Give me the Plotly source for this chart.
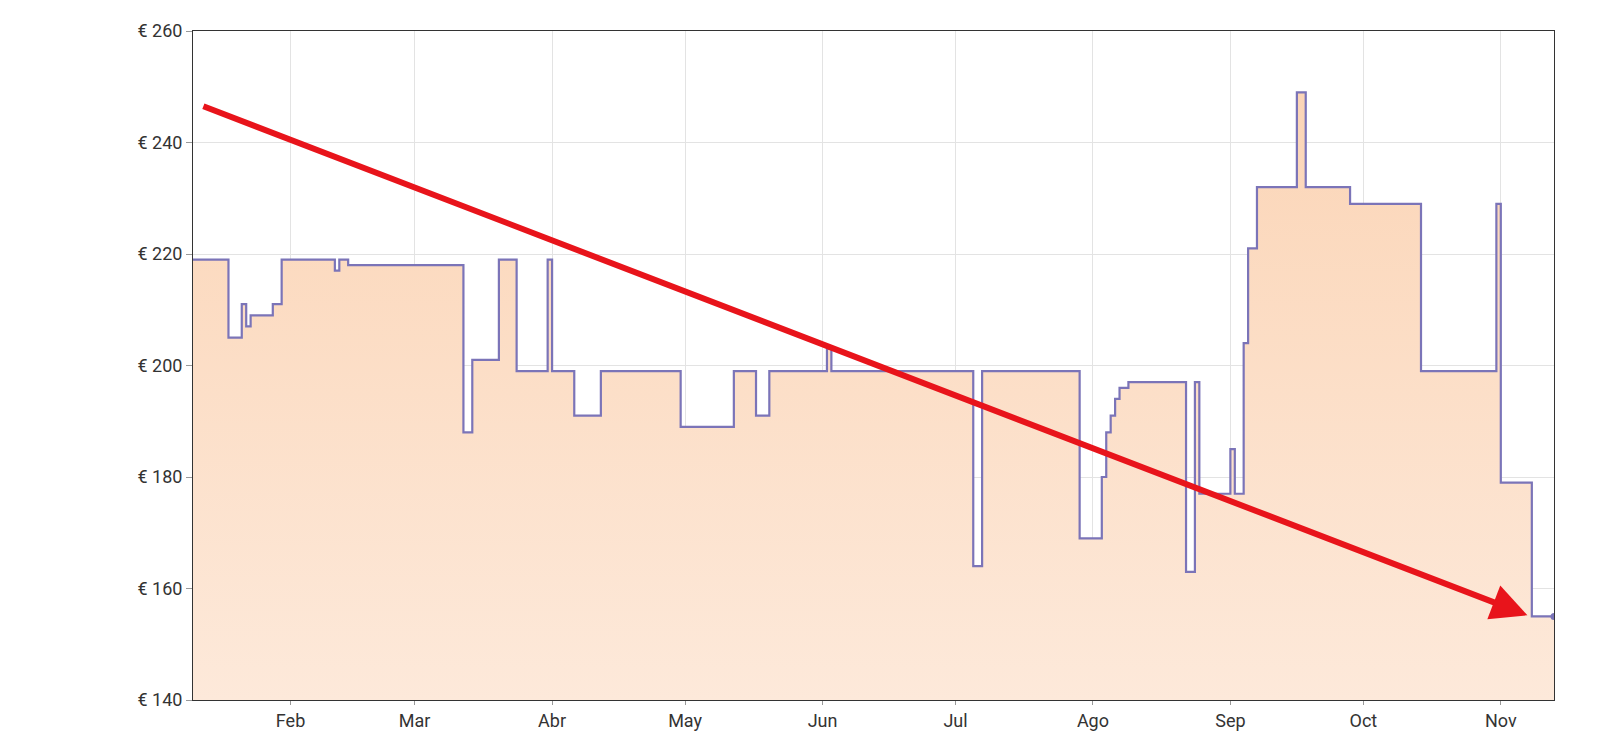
import plotly.graph_objects as go

dates = ["2023-01-10","2023-01-18","2023-01-21","2023-01-22","2023-01-23","2023-01-28","2023-01-30","2023-02-11","2023-02-12","2023-02-14",
         "2023-03-12","2023-03-14","2023-03-20","2023-03-24","2023-03-31","2023-04-01","2023-04-06","2023-04-12","2023-04-30","2023-05-12",
         "2023-05-17","2023-05-20","2023-06-02","2023-06-03","2023-07-05","2023-07-07","2023-07-29","2023-08-03","2023-08-04","2023-08-05",
         "2023-08-06","2023-08-07","2023-08-09","2023-08-22","2023-08-24","2023-08-25","2023-08-26","2023-09-01","2023-09-02","2023-09-04",
         "2023-09-05","2023-09-07","2023-09-16","2023-09-18","2023-09-28","2023-10-14","2023-10-31","2023-11-01","2023-11-08","2023-11-13"]
prices = [219,205,211,207,209,211,219,217,219,218,
          188,201,219,199,219,199,191,199,189,199,
          191,199,203,199,164,199,169,180,188,191,
          194,196,197,163,197,177,177,185,177,204,
          221,232,249,232,229,199,229,179,155,155]
yticks = [140,160,180,200,220,240,260]

fig = go.Figure()
fig.add_trace(go.Scatter(
    x=dates, y=prices, mode="lines", line=dict(color="#7b74b8", width=2.2, shape="hv"),
    fill="tozeroy",
    fillgradient=dict(type="vertical", colorscale=[[0, "#fde9da"], [1, "#fbd3b3"]], start=140, stop=260),
))
fig.add_trace(go.Scatter(x=[dates[-1]], y=[prices[-1]], mode="markers",
                         marker=dict(color="#7b74b8", size=7)))
fig.add_annotation(x="2023-11-07", y=155.2, ax="2023-01-12", ay=246.6, axref="x", ayref="y",
                   xref="x", yref="y", showarrow=True, arrowhead=2, arrowsize=1.2,
                   arrowwidth=6, arrowcolor="#e8141b", text="")
fig.update_layout(
    width=1600, height=739, showlegend=False,
    margin=dict(l=185, r=54, t=23, b=47),
    plot_bgcolor="white", paper_bgcolor="white",
    font=dict(family="Roboto", size=18, color="#333"),
)
fig.update_xaxes(range=["2023-01-10", "2023-11-13"], showgrid=True, gridcolor="#e3e3e3",
                 tickvals=["2023-02-01","2023-03-01","2023-04-01","2023-05-01","2023-06-01","2023-07-01",
                           "2023-08-01","2023-09-01","2023-10-01","2023-11-01"],
                 ticktext=["Feb","Mar","Abr","May","Jun","Jul","Ago","Sep","Oct","Nov"],
                 showline=True, linecolor="#333", mirror=True, ticks="outside", ticklen=4, tickcolor="#999")
fig.update_yaxes(range=[140, 260], tickvals=yticks, ticktext=[f"€ {v}" for v in yticks],
                 showgrid=True, gridcolor="#e3e3e3", showline=True, linecolor="#333", mirror=True,
                 ticks="outside", ticklen=6, tickcolor="#999")
fig.write_html("out.html")
